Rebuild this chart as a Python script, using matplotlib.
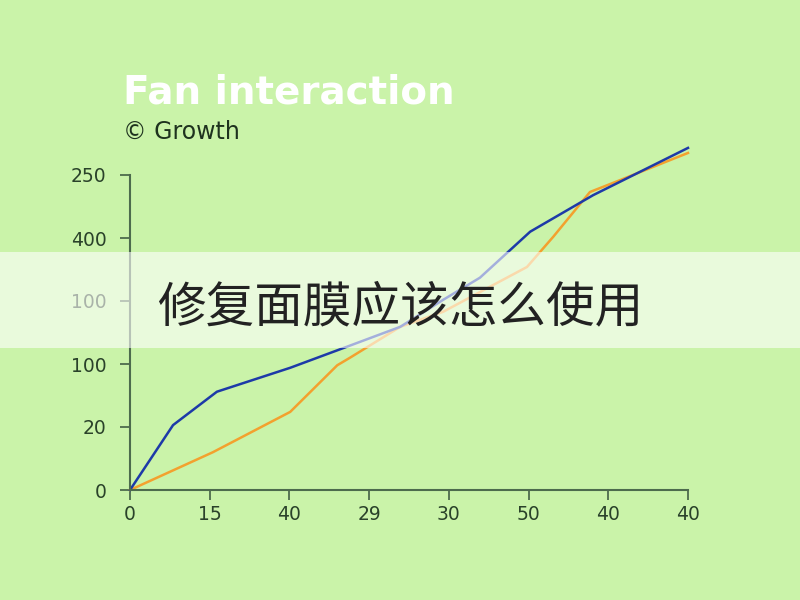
import matplotlib.pyplot as plt
from matplotlib.patches import Rectangle

# Dados (posições de índice nos eixos)
x_labels = ['0', '15', '40', '29', '30', '50', '40', '40']
y_labels = ['0', '20', '100', '100', '400', '250']

blue_x = [0, 0.54, 1.09, 2.01, 2.67, 3.39, 3.93, 4.39, 5.02, 5.81, 7.0]
blue_y = [0, 1.03, 1.56, 1.94, 2.25, 2.59, 3.02, 3.37, 4.10, 4.68, 5.43]

orange_x = [0, 1.04, 2.01, 2.60, 2.76, 3.39, 3.93, 4.55, 4.98, 5.31, 5.77, 6.15, 7.0]
orange_y = [0, 0.60, 1.24, 1.98, 2.10, 2.59, 2.83, 3.25, 3.54, 4.02, 4.73, 4.92, 5.35]

bg = '#caf3a9'
axis_col = '#4d6b4d'
text_col = '#2a422a'

fig = plt.figure(figsize=(8, 6), dpi=100, facecolor=bg)
ax = fig.add_axes([130 / 800, 1 - 490 / 600, 558 / 800, 345 / 600])
ax.set_facecolor(bg)

ax.plot(orange_x, orange_y, color='#f3a12e', linewidth=1.8, clip_on=False)
ax.plot(blue_x, blue_y, color='#1d3aa8', linewidth=1.8, clip_on=False)

ax.set_xlim(0, 7)
ax.set_ylim(0, 345 / 63)
ax.set_xticks(range(len(x_labels)))
ax.set_xticklabels(x_labels)
ax.set_yticks(range(len(y_labels)))
ax.set_yticklabels(y_labels)

for s in ['top', 'right']:
    ax.spines[s].set_visible(False)
for s in ['left', 'bottom']:
    ax.spines[s].set_color(axis_col)
    ax.spines[s].set_linewidth(1.5)
ax.spines['left'].set_bounds(0, 5)
ax.tick_params(axis='both', colors=axis_col, labelcolor=text_col,
               labelsize=13.5, length=7, width=1.3)
ax.tick_params(axis='y', pad=10)
ax.tick_params(axis='x', pad=4)

# Título e subtítulo
fig.text(123 / 800, 1 - 92 / 600, 'Fan interaction', color='white',
         fontsize=28, fontweight='bold', family='DejaVu Sans', va='center')
fig.text(123 / 800, 1 - 132 / 600, '© Growth', color='#1e321e',
         fontsize=17, family='DejaVu Sans', va='center')

# Faixa branca com o texto em chinês
fig.patches.append(Rectangle((0, 1 - 348 / 600), 1, 96 / 600,
                             transform=fig.transFigure, facecolor='white',
                             alpha=0.6, edgecolor='none', zorder=10))
fig.text(0.5, 1 - 308 / 600, '修复面膜应该怎么使用', color='#222222',
         fontsize=35, family=['Noto Sans CJK SC', 'DejaVu Sans'],
         ha='center', va='center', zorder=11)

plt.savefig('out.png', dpi=100, facecolor=bg)
